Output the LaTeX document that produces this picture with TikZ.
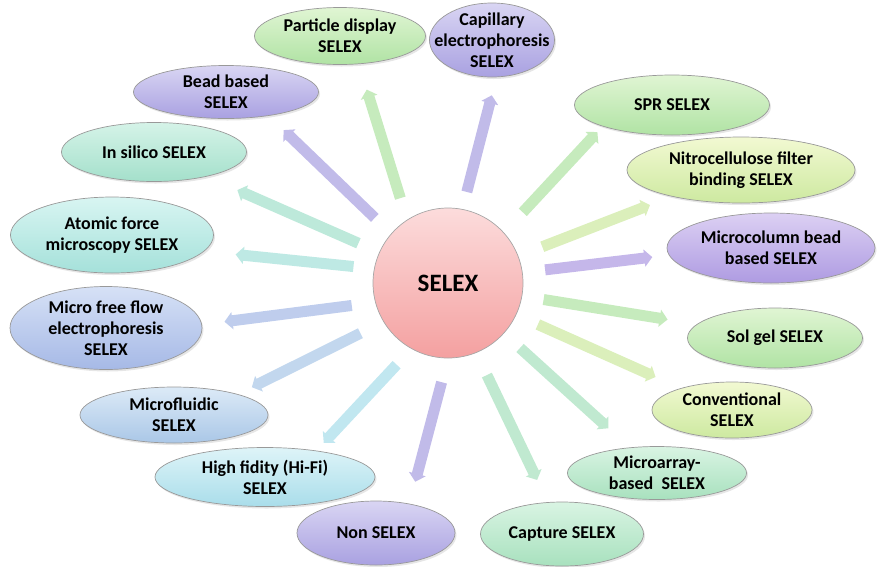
\documentclass[tikz,border=0pt]{standalone}
\usepackage{fontspec}
\setmainfont{Carlito}
\usetikzlibrary{shapes.geometric,arrows.meta,shadows}

\definecolor{pnkT}{HTML}{FCDCDC}\definecolor{pnkB}{HTML}{F4A0A0}
\definecolor{grnT}{HTML}{E0F5D3}\definecolor{grnB}{HTML}{B0E3A4}
\definecolor{mntT}{HTML}{D9F4E3}\definecolor{mntB}{HTML}{A8E1BE}
\definecolor{ylwT}{HTML}{F2F9D2}\definecolor{ylwB}{HTML}{CDE9A0}
\definecolor{prpT}{HTML}{D9D5F3}\definecolor{prpB}{HTML}{A9A1E1}
\definecolor{vioT}{HTML}{DCD0F3}\definecolor{vioB}{HTML}{AE9BE2}
\definecolor{bluT}{HTML}{D6E1F6}\definecolor{bluB}{HTML}{A6B9E6}
\definecolor{skyT}{HTML}{DCEAF7}\definecolor{skyB}{HTML}{AAC7E7}
\definecolor{cynT}{HTML}{DEF4F8}\definecolor{cynB}{HTML}{A9DDEA}
\definecolor{telT}{HTML}{D8F5F2}\definecolor{telB}{HTML}{A5E1DA}
\definecolor{aquT}{HTML}{D5F3E8}\definecolor{aquB}{HTML}{A4E0CB}

\begin{document}
\begin{tikzpicture}[x=1pt,y=-1pt,
  oval/.style={ellipse,draw=black!40,line width=0.7pt,inner sep=0pt,outer sep=0pt,
    drop shadow={shadow xshift=1.5pt,shadow yshift=-2pt,opacity=0.2}},
  lbl/.style={align=center,inner sep=0pt,font=\fontsize{18}{21}\selectfont\bfseries},
  grnoval/.style={oval,top color=grnT,bottom color=grnB},
  mntoval/.style={oval,top color=mntT,bottom color=mntB},
  ylwoval/.style={oval,top color=ylwT,bottom color=ylwB},
  prpoval/.style={oval,top color=prpT,bottom color=prpB},
  viooval/.style={oval,top color=vioT,bottom color=vioB},
  bluoval/.style={oval,top color=bluT,bottom color=bluB},
  skyoval/.style={oval,top color=skyT,bottom color=skyB},
  cynoval/.style={oval,top color=cynT,bottom color=cynB},
  teloval/.style={oval,top color=telT,bottom color=telB},
  aquoval/.style={oval,top color=aquT,bottom color=aquB},
  arr/.style={line width=11pt,draw=#1!72!white,-{Triangle[width=17pt,length=8pt]}}]
  \useasboundingbox (0,0) rectangle (883,566);
  % Centre
  \node[circle,minimum size=150pt,inner sep=0pt,outer sep=0pt,draw=black!35,line width=0.7pt,
    top color=pnkT,bottom color=pnkB,font=\fontsize{25}{30}\selectfont\bfseries] (selex) at (448,283) {SELEX};
  % Methods, clockwise from the top
  \node[grnoval,minimum width=171pt,minimum height=57pt,label={[lbl]center:Particle display\\SELEX}] (part) at (340,36) {};
  \node[prpoval,minimum width=125pt,minimum height=74pt,label={[lbl]center:Capillary\\electrophoresis\\SELEX}] (capil) at (492,40) {};
  \node[grnoval,minimum width=195pt,minimum height=60pt,label={[lbl]center:SPR SELEX}] (spr) at (672,105) {};
  \node[ylwoval,minimum width=228pt,minimum height=66pt,label={[lbl]center:Nitrocellulose filter\\binding SELEX}] (nitro) at (741,170) {};
  \node[viooval,minimum width=208pt,minimum height=70pt,label={[lbl]center:Microcolumn bead\\based SELEX}] (mcol) at (771,248) {};
  \node[grnoval,minimum width=175pt,minimum height=60pt,label={[lbl]center:Sol gel SELEX}] (solgel) at (775,338) {};
  \node[ylwoval,minimum width=160pt,minimum height=56pt,label={[lbl]center:Conventional\\SELEX}] (conv) at (732,410) {};
  \node[mntoval,minimum width=179pt,minimum height=53pt,label={[lbl]center:Microarray-\\based\ \ SELEX}] (marray) at (657,473) {};
  \node[mntoval,minimum width=163pt,minimum height=64pt,label={[lbl]center:Capture SELEX}] (capt) at (562,534) {};
  \node[prpoval,minimum width=158pt,minimum height=64pt,label={[lbl]center:Non SELEX}] (non) at (376,533) {};
  \node[cynoval,minimum width=220pt,minimum height=59pt,label={[lbl]center:High fidity (Hi-Fi)\\SELEX}] (hifi) at (265,477) {};
  \node[skyoval,minimum width=188pt,minimum height=56pt,label={[lbl]center:Microfluidic\\SELEX}] (mfluid) at (174,415) {};
  \node[bluoval,minimum width=192pt,minimum height=83pt,label={[lbl]center:Micro free flow\\electrophoresis\\SELEX}] (mffe) at (106,328) {};
  \node[teloval,minimum width=203pt,minimum height=76pt,label={[lbl]center:Atomic force\\microscopy SELEX}] (afm) at (112,235) {};
  \node[aquoval,minimum width=185pt,minimum height=59pt,label={[lbl]center:In silico SELEX}] (insil) at (154,152) {};
  \node[prpoval,minimum width=185pt,minimum height=53pt,label={[lbl]center:Bead based\\SELEX}] (bead) at (226,92) {};
  % Arrows
  \draw[arr=grnB,shorten <=23pt,shorten >=27pt] (selex.123) -- (part.-56);
  \draw[arr=prpB,shorten <=18pt,shorten >=19pt] (selex.79) -- (capil.-83);
  \draw[arr=grnB,shorten <=28pt,shorten >=8pt] (selex.42) -- (spr.197);
  \draw[arr=ylwB,shorten <=26pt,shorten >=24pt] (selex.21) -- (nitro.201);
  \draw[arr=vioB,shorten <=23pt,shorten >=17pt] (selex.8) -- (mcol.184);
  \draw[arr=grnB,shorten <=22pt,shorten >=30pt] (selex.350) -- (solgel.170);
  \draw[arr=ylwB,shorten <=24pt,shorten >=28pt] (selex.335) -- (conv.157);
  \draw[arr=mntB,shorten <=22pt,shorten >=29pt] (selex.318) -- (marray.137);
  \draw[arr=mntB,shorten <=25pt,shorten >=25pt] (selex.292) -- (capt.114);
  \draw[arr=prpB,shorten <=25pt,shorten >=23pt] (selex.270) -- (non.41);
  \draw[arr=cynB,shorten <=22pt,shorten >=11pt] (selex.241) -- (hifi.27);
  \draw[arr=skyB,shorten <=26pt,shorten >=16pt] (selex.211) -- (mfluid.18);
  \draw[arr=bluB,shorten <=24pt,shorten >=23pt] (selex.195) -- (mffe.2);
  \draw[arr=telB,shorten <=21pt,shorten >=32pt] (selex.169) -- (afm.-10);
  \draw[arr=aquB,shorten <=23pt,shorten >=34pt] (selex.156) -- (insil.-25);
  \draw[arr=prpB,shorten <=23pt,shorten >=21pt] (selex.139) -- (bead.-29);
\end{tikzpicture}
\end{document}
